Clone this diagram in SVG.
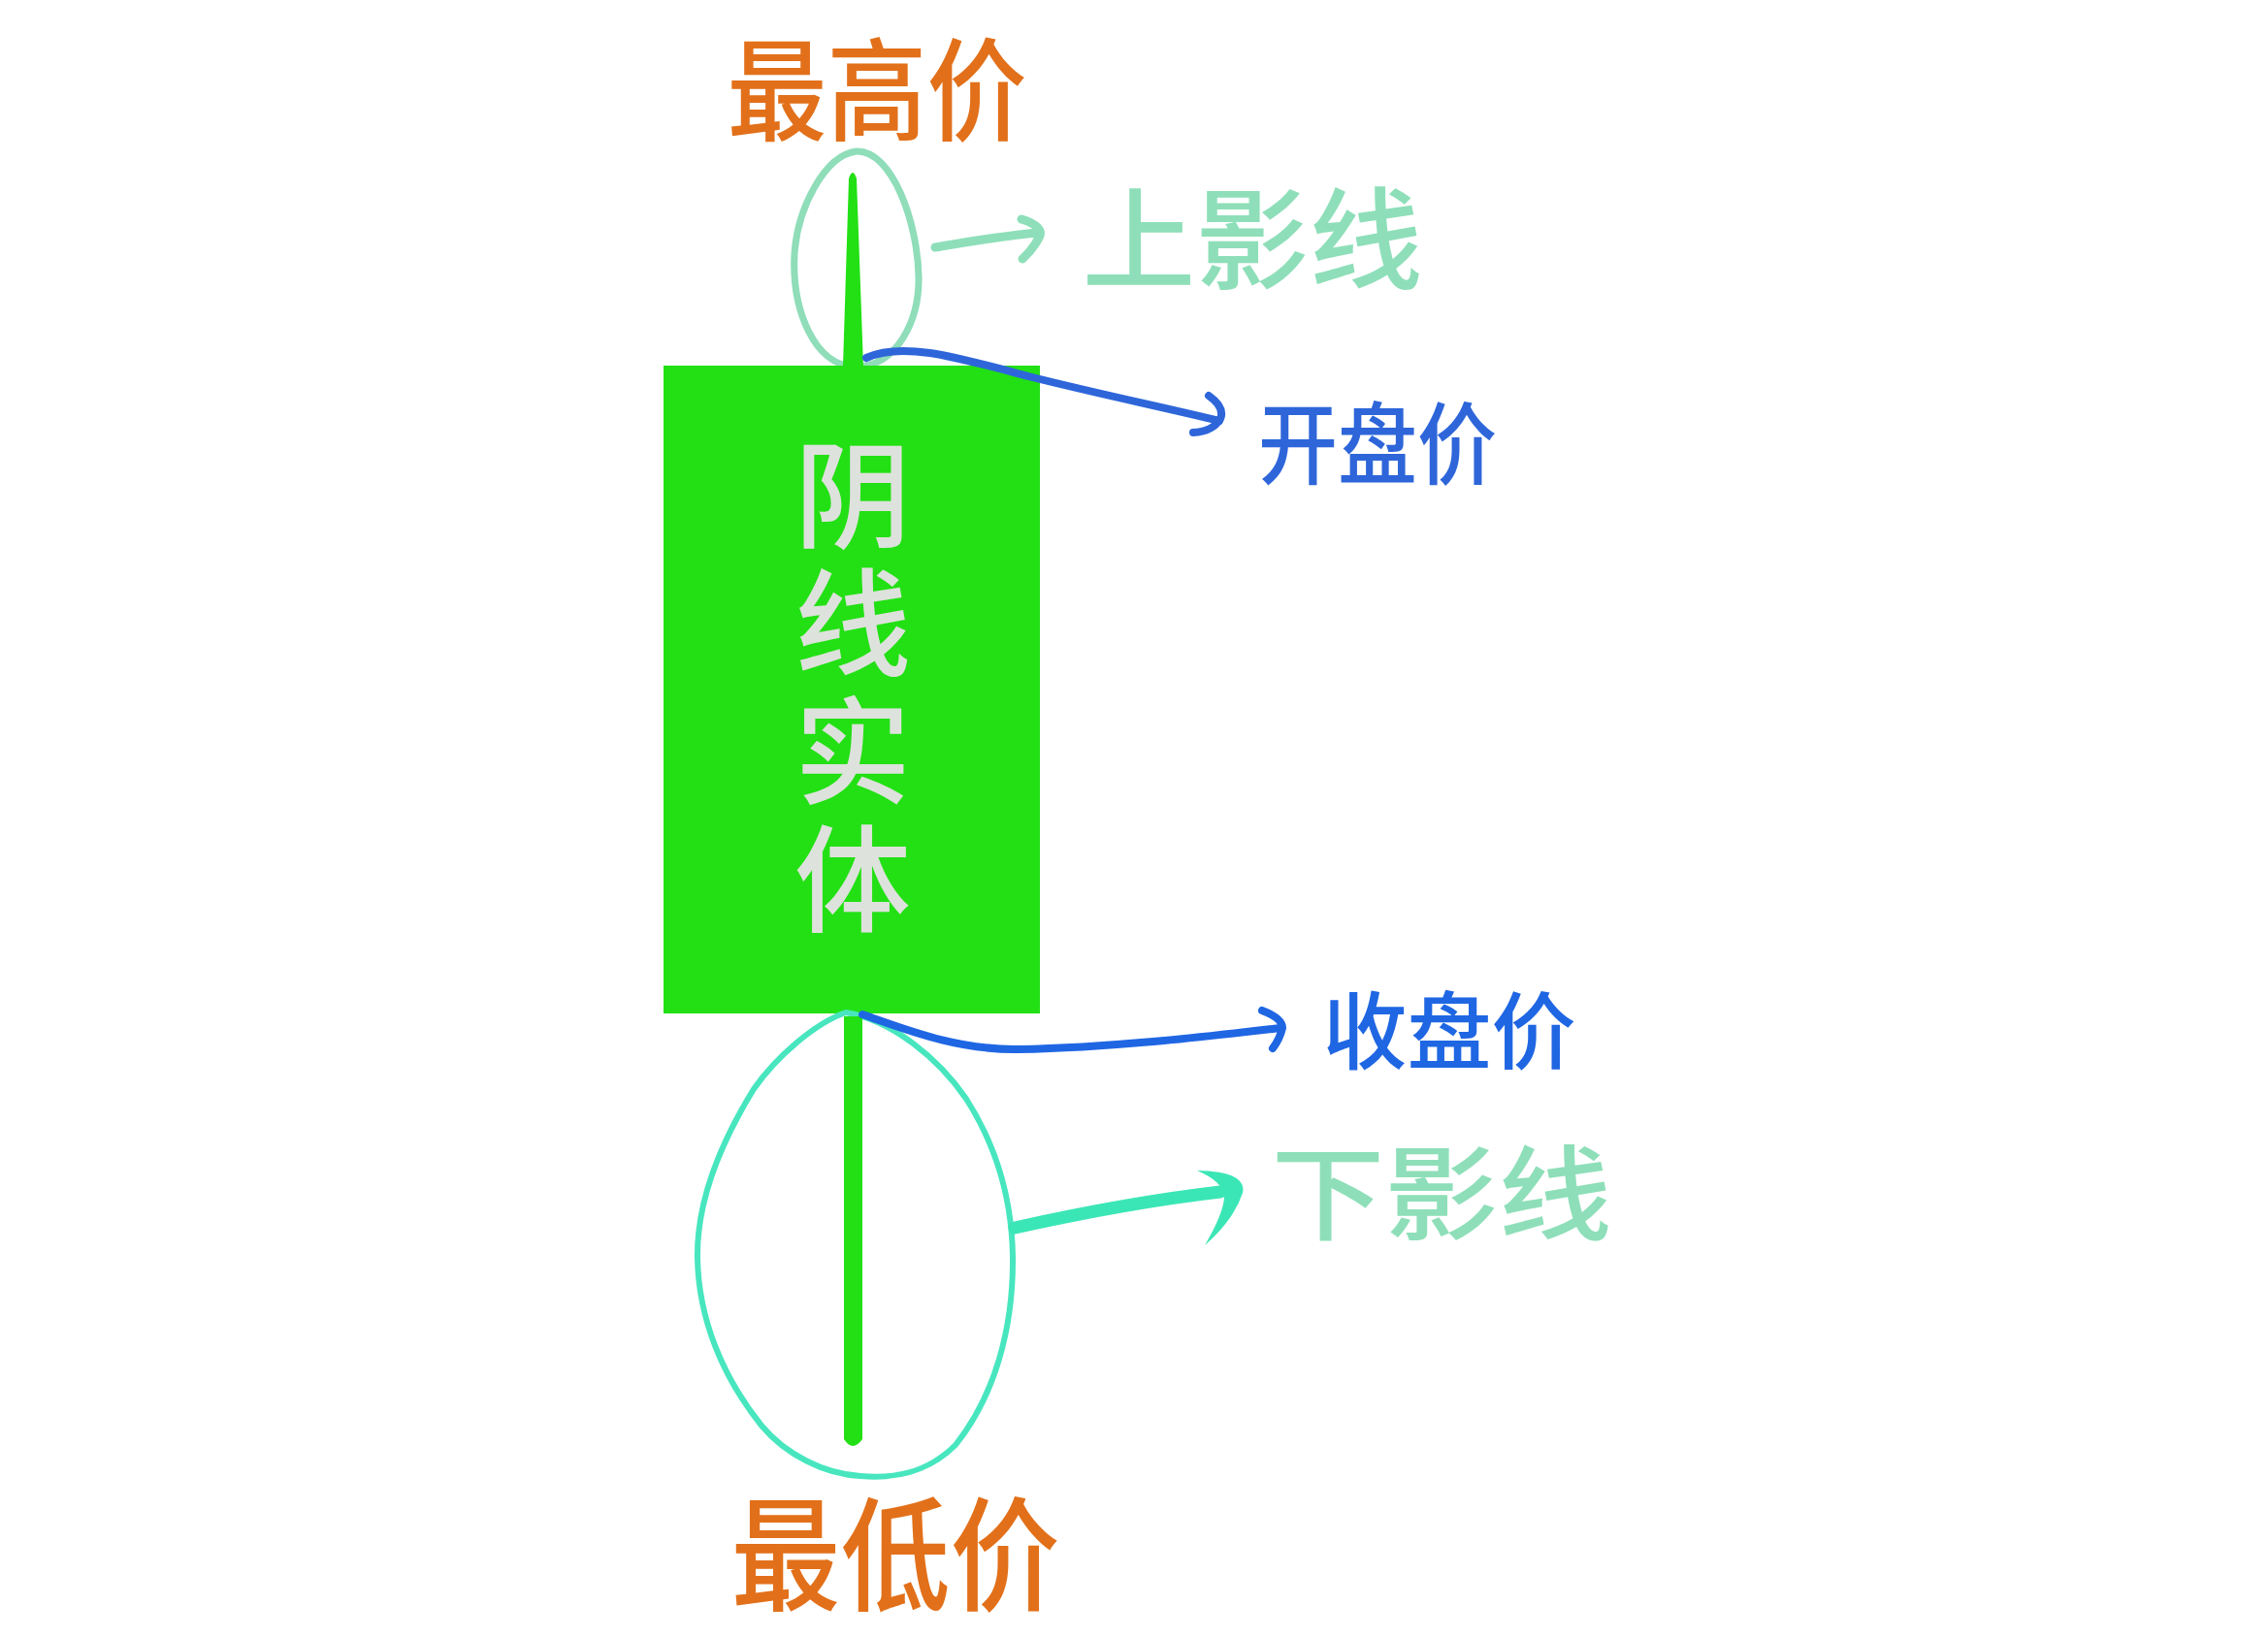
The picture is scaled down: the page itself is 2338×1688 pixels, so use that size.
<svg xmlns="http://www.w3.org/2000/svg" width="2338" height="1688" viewBox="0 0 2338 1688">
<style>
.t{font-family:"Noto Sans CJK SC","Noto Sans",sans-serif;font-weight:500;text-anchor:middle}
.orange{fill:#E2701A}
.mint{fill:#8EDFB9}
.blue{fill:#2E66DA}
.body{fill:#DEE2DC}
.ln{fill:none;stroke-linecap:round;stroke-linejoin:round}
</style>
<rect width="2338" height="1688" fill="#ffffff"/>
<g id="upper-shadow">
  <path d="M 883 156 C 850 160 822 215 819 262 C 816 320 840 378 882 378 C 925 378 948 330 947 285 C 946 230 920 155 883 156 Z" class="ln" stroke="#8FDDB9" stroke-width="7"/>
  <path d="M 875 184 Q 879 172 883 184 L 890 378 L 869 378 Z" fill="#22E014"/>
</g>
<g id="body">
  <rect x="684" y="377" width="388" height="668" fill="#22E014"/>
  <text class="body" font-family="'Noto Sans CJK SC','Noto Sans',sans-serif" font-weight="500" font-size="120" writing-mode="vertical-rl" letter-spacing="12" x="879" y="450">阴线实体</text>
</g>
<g id="lower-shadow">
  <path d="M 872 1044 C 920 1052 968 1092 996 1133 C 1026 1180 1043 1235 1044 1295 C 1045 1370 1025 1440 985 1490 C 955 1520 920 1525 887 1522 C 850 1520 810 1500 785 1470 C 745 1420 720 1360 719 1297 C 718 1235 745 1175 777 1123 C 800 1090 840 1055 872 1044 Z" class="ln" stroke="#48E6BF" stroke-width="6"/>
  <path d="M 870 1048 L 889 1048 L 889 1484 Q 879 1498 870 1484 Z" fill="#22E014"/>
</g>
<g id="connectors">
  <path d="M 964 255 C 1000 249 1040 242 1072 240 M 1053 226 Q 1075 233 1072 243 Q 1066 256 1054 267" class="ln" stroke="#8EDFB9" stroke-width="9"/>
  <path d="M 893 369 C 930 352 985 368 1060 388 C 1140 408 1200 420 1257 434 M 1246 408 Q 1263 420 1258 432 Q 1250 445 1230 446" class="ln" stroke="#2E66DA" stroke-width="8"/>
  <path d="M 889 1046 C 930 1060 985 1083 1050 1082 C 1150 1080 1250 1068 1320 1060 M 1301 1042 Q 1322 1050 1322 1060 Q 1319 1072 1312 1081" class="ln" stroke="#1F66E3" stroke-width="8"/>
  <path d="M 1046 1266 C 1100 1254 1180 1238 1258 1229" class="ln" stroke="#3BE6B6" stroke-width="13"/>
  <path d="M 1234 1207 Q 1286 1208 1281 1230 Q 1272 1258 1242 1284 Q 1262 1250 1262 1233 Q 1260 1218 1234 1207 Z" fill="#3BE6B6"/>
</g>
<g id="labels">
  <text class="t orange" font-size="103" transform="translate(904,136) scale(1,1.12)" x="0" y="0">最高价</text>
  <text class="t mint" font-size="117" transform="translate(1291,289) scale(1,0.97)" x="0" y="0">上影线</text>
  <text class="t blue" font-size="82" transform="translate(1420,492) scale(1,1.13)" x="0" y="0">开盘价</text>
  <text class="t" fill="#1F66E3" font-size="87" transform="translate(1494,1096) scale(1,1.0)" x="0" y="0">收盘价</text>
  <text class="t mint" font-size="117" transform="translate(1486,1270) scale(1,0.9)" x="0" y="0">下影线</text>
  <text class="t orange" font-size="113" transform="translate(923,1651) scale(1,1.13)" x="0" y="0">最低价</text>
</g>
</svg>
